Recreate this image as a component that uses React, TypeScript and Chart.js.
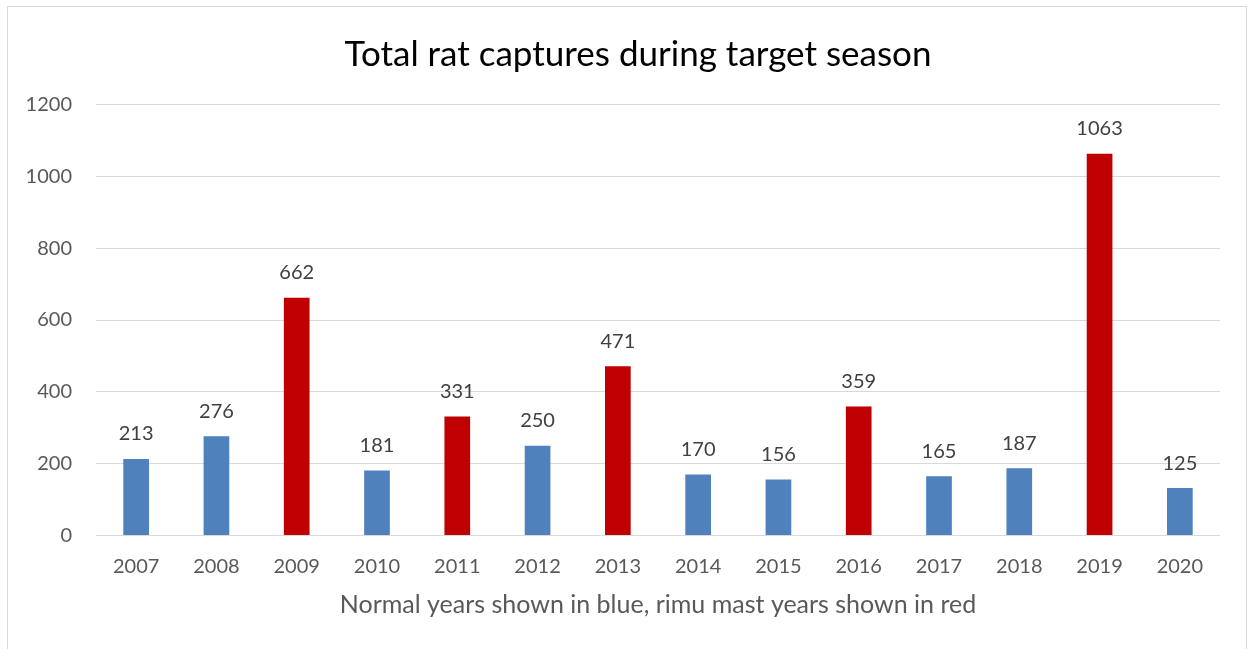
import React, { useEffect, useRef } from "react";
import { Chart, registerables } from "chart.js";

Chart.register(...registerables);

const years = ["2007","2008","2009","2010","2011","2012","2013","2014","2015","2016","2017","2018","2019","2020"];
const captures = [213, 276, 662, 181, 331, 250, 471, 170, 156, 359, 165, 187, 1063, 132];
const valueLabels = ["213","276","662","181","331","250","471","170","156","359","165","187","1063","125"];
const mastYears = ["2009","2011","2013","2016","2019"];
const yTicks = [0, 200, 400, 600, 800, 1000, 1200];
const chartTitle = "Total rat captures during target season";
const xAxisTitle = "Normal years shown in blue, rimu mast years shown in red";

const FONT = "Lato, 'Noto Sans', sans-serif";

export default function App() {
  const ref = useRef<HTMLCanvasElement | null>(null);

  useEffect(() => {
    if (!ref.current) return;
    const colors = years.map((y) => (mastYears.includes(y) ? "#C00000" : "#4F81BD"));
    const labelPlugin = {
      id: "valueLabels",
      afterDatasetsDraw(chart: any) {
        const ctx = chart.ctx;
        const meta = chart.getDatasetMeta(0);
        ctx.save();
        ctx.fillStyle = "#404040";
        ctx.font = `20px ${FONT}`;
        ctx.textAlign = "center";
        ctx.textBaseline = "middle";
        meta.data.forEach((bar: any, i: number) => {
          ctx.fillText(valueLabels[i], bar.x, bar.y - 25);
        });
        const ca = chart.chartArea;
        ctx.fillStyle = "#595959";
        ctx.font = `25px ${FONT}`;
        ctx.fillText(xAxisTitle, (ca.left + ca.right) / 2, ca.bottom + 69.5);
        ctx.fillStyle = "#000000";
        ctx.font = `35px ${FONT}`;
        ctx.fillText(chartTitle, 638, 55);
        ctx.restore();
      },
    };
    const chart = new Chart(ref.current, {
      type: "bar",
      data: {
        labels: years,
        datasets: [
          {
            data: captures,
            backgroundColor: colors,
            borderWidth: 0,
            barPercentage: 0.32,
            categoryPercentage: 1,
          },
        ],
      },
      options: {
        animation: false,
        responsive: false,
        maintainAspectRatio: false,
        layout: { padding: { left: 0, right: 29, top: 104.5, bottom: 0 } },
        plugins: {
          legend: { display: false },
          tooltip: { enabled: false },
          title: { display: false },
        },
        scales: {
          x: {
            grid: { display: false },
            border: { display: false },
            afterFit(scale: any) {
              scale.height = 113.5;
            },
            ticks: {
              color: "#595959",
              font: { family: FONT, size: 20 },
              padding: 11,
              maxRotation: 0,
            },
          },
          y: {
            min: 0,
            max: 1200,
            afterBuildTicks(scale: any) {
              scale.ticks = yTicks.map((v) => ({ value: v }));
            },
            afterFit(scale: any) {
              scale.width = 96;
            },
            grid: { color: "#D9D9D9", lineWidth: 1, drawTicks: false },
            border: { display: false },
            ticks: {
              color: "#595959",
              font: { family: FONT, size: 20 },
              padding: 24,
              callback: (v: any) => String(v),
            },
          },
        },
      },
      plugins: [labelPlugin],
    });
    return () => chart.destroy();
  }, []);

  return (
    <div style={{ position: "absolute", left: 0, top: 0, width: 1249, height: 649, overflow: "hidden", background: "#fff" }}>
      <div
        style={{
          position: "absolute",
          left: 7,
          top: 6,
          width: 1240,
          height: 700,
          border: "1px solid #D9D9D9",
          boxSizing: "border-box",
        }}
      />
      <canvas ref={ref} width={1249} height={649} style={{ position: "absolute", left: 0, top: 0 }} />
    </div>
  );
}
